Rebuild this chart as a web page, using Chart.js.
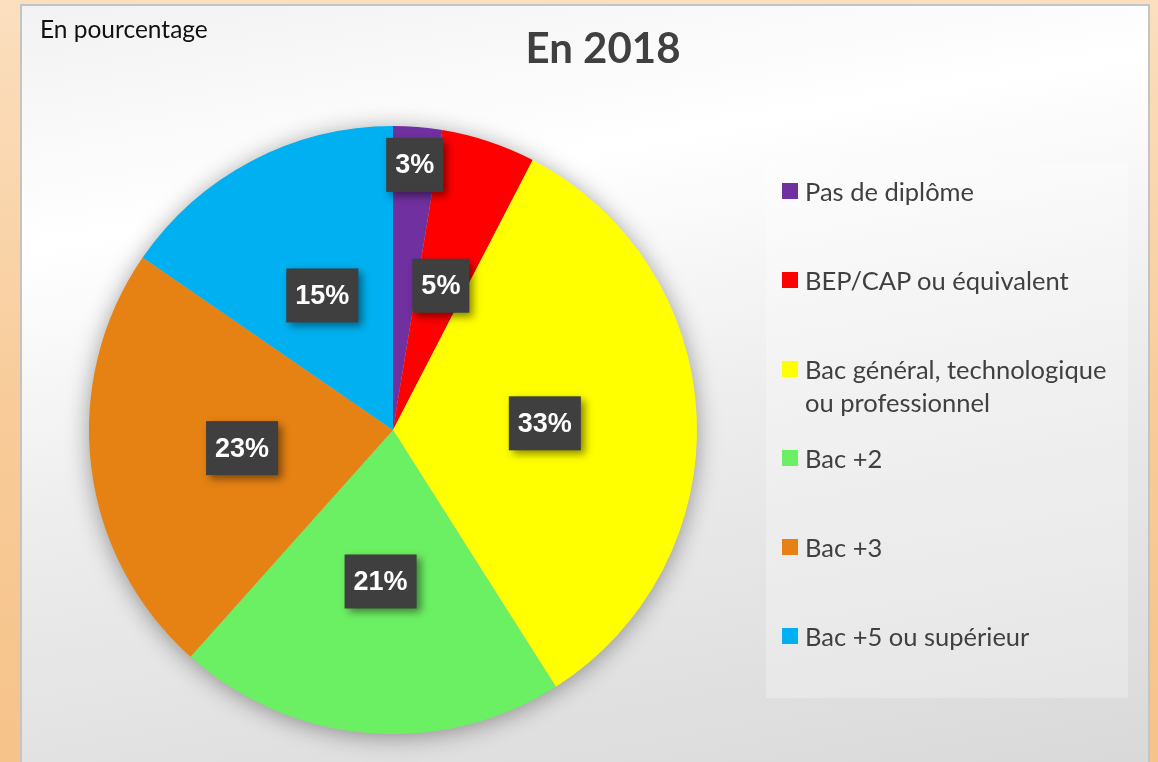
<!DOCTYPE html>
<html lang="fr">
<head>
<meta charset="utf-8">
<title>En 2018</title>
<script src="https://cdn.jsdelivr.net/npm/chart.js@4.4.1/dist/chart.umd.min.js"></script>
<style>
  html, body { margin: 0; padding: 0; }
  body {
    width: 1158px; height: 762px; overflow: hidden; position: relative;
    background: linear-gradient(to bottom, #fbdfbf 0%, #f8cb98 55%, #f6c38a 100%);
    font-family: Lato, "Open Sans", sans-serif;
  }
  #panel {
    position: absolute; left: 20px; top: 4px; width: 1126px; height: 780px;
    border: 2px solid #c4c4c4;
    background: linear-gradient(170deg, #f2f2f2 0%, #ffffff 25%, #ececec 55%, #d8d8d8 100%);
  }
  #chartWrap { position: absolute; left: 0; top: 0; width: 1158px; height: 762px; }
  #unit { position: absolute; left: 40px; top: 14px; font-size: 24.5px; color: #111; }
  #title { position: absolute; left: 403px; width: 400px; top: 22px; text-align: center;
    font-size: 42px; font-weight: bold; color: #404040; }
  #legend { position: absolute; left: 766px; top: 163px; width: 362px; height: 535px;
    background: rgba(255,255,255,0.28); }
  .item { position: absolute; left: 16px; display: flex; align-items: flex-start; }
  .sw { width: 16px; height: 16px; margin-top: 8px; margin-right: 7px; flex: none; }
  .txt { font-size: 25.5px; line-height: 33px; color: #404040; width: 325px; }
</style>
</head>
<body>
<div id="panel"></div>
<div id="chartWrap"><canvas id="chartPie" width="1158" height="762"></canvas></div>
<div id="unit">En pourcentage</div>
<div id="title">En 2018</div>
<div id="legend"></div>
<script>
// Données (parts en %)
const categories = [
  'Pas de diplôme',
  'BEP/CAP ou équivalent',
  'Bac général, technologique ou professionnel',
  'Bac +2',
  'Bac +3',
  'Bac +5 ou supérieur'
];
const values = [2.6, 5.0, 33.4, 20.6, 23.0, 15.4];
const colors = ['#7030a0', '#ff0000', '#ffff00', '#6cf063', '#e68213', '#00b0f0'];

// Légende HTML
const legend = document.getElementById('legend');
categories.forEach((cat, i) => {
  const item = document.createElement('div');
  item.className = 'item';
  item.style.top = (12 + i * 89) + 'px';
  item.innerHTML = `<div class="sw" style="background:${colors[i]}"></div><div class="txt">${cat}</div>`;
  legend.appendChild(item);
});

// Ombre douce sous le camembert
const pieShadow = {
  id: 'pieShadow',
  beforeDatasetsDraw(chart) {
    const arc = chart.getDatasetMeta(0).data[0];
    if (!arc) return;
    const { x, y, outerRadius } = arc.getProps(['x', 'y', 'outerRadius'], true);
    const ctx = chart.ctx;
    ctx.save();
    ctx.shadowColor = 'rgba(0,0,0,0.4)';
    ctx.shadowBlur = 24;
    ctx.shadowOffsetX = 0;
    ctx.shadowOffsetY = 3;
    ctx.fillStyle = '#bbbbbb';
    ctx.beginPath();
    ctx.arc(x, y, outerRadius - 1, 0, Math.PI * 2);
    ctx.fill();
    ctx.restore();
  }
};

// Étiquettes de pourcentage dans des cadres sombres
const boxLabels = {
  id: 'boxLabels',
  afterDatasetsDraw(chart) {
    const ctx = chart.ctx;
    const meta = chart.getDatasetMeta(0);
    meta.data.forEach((arc, i) => {
      const p = arc.getProps(['x', 'y', 'startAngle', 'endAngle', 'outerRadius'], true);
      const mid = (p.startAngle + p.endAngle) / 2;
      const frac = values[i] < 4 ? 0.875 : 0.5;
      const cx = p.x + Math.cos(mid) * p.outerRadius * frac;
      const cy = p.y + Math.sin(mid) * p.outerRadius * frac;
      const text = Math.round(values[i]) + '%';
      ctx.save();
      ctx.font = 'bold 27px "Liberation Sans", Arial, sans-serif';
      const w = ctx.measureText(text).width + 18;
      const h = 54;
      ctx.shadowColor = 'rgba(0,0,0,0.45)';
      ctx.shadowBlur = 8;
      ctx.shadowOffsetX = 4;
      ctx.shadowOffsetY = 4;
      ctx.fillStyle = '#3f3f3f';
      ctx.fillRect(cx - w / 2, cy - h / 2, w, h);
      ctx.shadowColor = 'transparent';
      ctx.fillStyle = '#ffffff';
      ctx.textAlign = 'center';
      ctx.textBaseline = 'middle';
      ctx.fillText(text, cx, cy + 1);
      ctx.restore();
    });
  }
};

new Chart(document.getElementById('chartPie').getContext('2d'), {
  type: 'pie',
  data: {
    labels: categories,
    datasets: [{
      data: values,
      backgroundColor: colors,
      borderWidth: 0
    }]
  },
  options: {
    responsive: false,
    animation: false,
    layout: { padding: { left: 89, right: 461, top: 126, bottom: 28 } },
    plugins: {
      legend: { display: false },
      tooltip: { enabled: false },
      title: { display: false }
    }
  },
  plugins: [pieShadow, boxLabels]
});
</script>
</body>
</html>
